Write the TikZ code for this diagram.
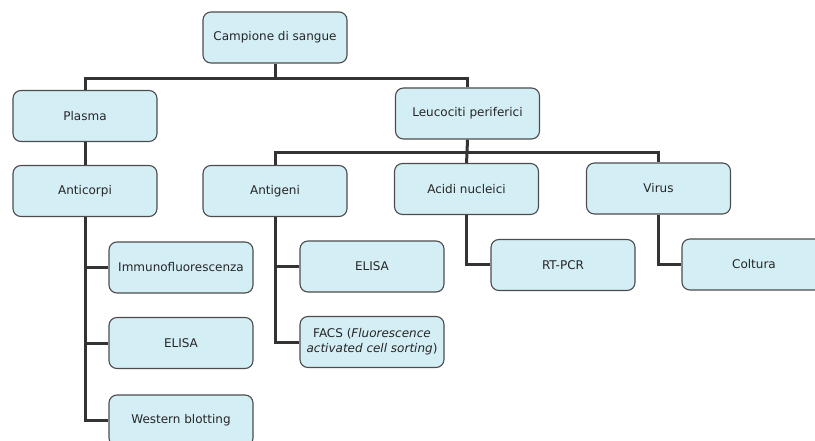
\documentclass[tikz,border=0pt]{standalone}
\usepackage{fontspec}
\setmainfont{DejaVu Sans}
\usetikzlibrary{backgrounds}
\begin{document}
\begin{tikzpicture}[x=1pt,y=-1pt,
  box/.style={draw=black!70, line width=1.1pt, fill=boxfill, rounded corners=8pt,
    minimum width=144pt, minimum height=51pt, align=center, inner sep=2pt,
    text=black!85, font=\fontsize{12}{15}\selectfont},
  link/.style={draw=black!80, line width=3pt}]
\definecolor{boxfill}{HTML}{D4EEF5}
\useasboundingbox (0,0) rectangle (815,441);
\clip (0,0) rectangle (815,441);

% nodes
\node[box] (camp) at (275,37.5) {Campione di sangue};
\node[box] (plasma) at (85,116) {Plasma};
\node[box] (leuco) at (467.5,113.5) {Leucociti periferici};
\node[box] (anticorpi) at (85,191) {Anticorpi};
\node[box] (antigeni) at (275,191) {Antigeni};
\node[box] (acidi) at (466.5,189) {Acidi nucleici};
\node[box] (virus) at (658.5,188.5) {Virus};
\node[box] (immuno) at (181,267.5) {Immunofluorescenza};
\node[box] (elisaL) at (181,343) {ELISA};
\node[box] (western) at (181,420.5) {Western blotting};
\node[box] (elisaR) at (372,266.5) {ELISA};
\node[box] (facs) at (372,342) {\raisebox{5pt}{\begin{tabular}{@{}c@{}}FACS (\textit{Fluorescence}\\\textit{activated cell sorting})\end{tabular}}};
\node[box] (rtpcr) at (563,265) {RT-PCR};
\node[box] (coltura) at (754,264.5) {Coltura};

% junctions
\coordinate (j1) at (275,79);
\coordinate (j2) at (467,153);

% connectors, drawn beneath the boxes
\begin{scope}[on background layer]
\draw[link] (camp.south) -- (j1);
\draw[link] (plasma.north) |- (j1) -| (leuco.north);
\draw[link] (plasma.south) -- (anticorpi.north);
\draw[link] (leuco.south) -- (j2);
\draw[link] (antigeni.north) |- (j2) -| (virus.north);
\draw[link] (j2) -- (acidi.north);
\draw[link] (anticorpi.south) |- (western.west);
\draw[link] (anticorpi.south |- immuno.west) -- (immuno.west);
\draw[link] (anticorpi.south |- elisaL.west) -- (elisaL.west);
\draw[link] (antigeni.south) |- (facs.west);
\draw[link] (antigeni.south |- elisaR.west) -- (elisaR.west);
\draw[link] (acidi.south) |- (rtpcr.west);
\draw[link] (virus.south) |- (coltura.west);
\end{scope}
\end{tikzpicture}
\end{document}
